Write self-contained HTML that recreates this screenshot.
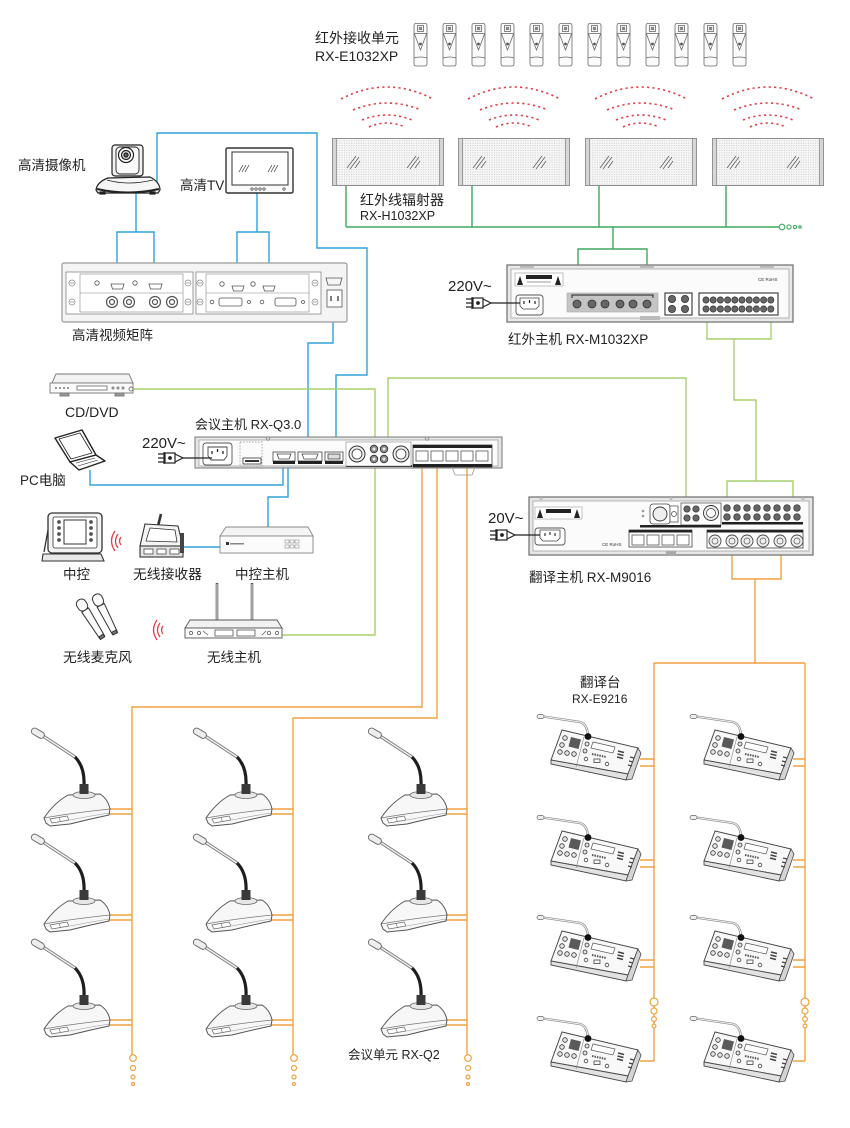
<!DOCTYPE html>
<html><head><meta charset="utf-8">
<style>html,body{margin:0;padding:0;background:#fff;}svg{display:block;}</style>
</head><body>
<svg width="850" height="1128" viewBox="0 0 850 1128" xmlns="http://www.w3.org/2000/svg" font-family="'Liberation Sans','Noto Sans CJK SC',sans-serif">
<defs>
<pattern id="dots" width="2.4" height="2.4" patternUnits="userSpaceOnUse"><rect width="2.4" height="2.4" fill="#f6f6f6"/><rect width="0.9" height="0.9" fill="#c6c6c6"/></pattern>

<g id="rcv" fill="none" stroke="#6a6a6a" stroke-width="0.8">
 <path d="M1,2.5 Q1,0.5 3,0.5 L12,0.5 Q14,0.5 14,2.5 L14,41 Q14,43 12,43 L3,43 Q1,43 1,41 Z" fill="#fbfbfb"/>
 <rect x="4.5" y="2.5" width="6" height="6" fill="#fff"/>
 <rect x="5.8" y="3.8" width="3.4" height="3.4" fill="#888" stroke="none"/>
 <path d="M1,10.5 L14,10.5"/>
 <path d="M1.5,11 L7.5,27 L13.5,11"/>
 <circle cx="7.5" cy="21" r="1.4" fill="#555" stroke="none"/>
 <path d="M1,35 Q7.5,33 14,35"/>
</g>

<g id="rad">
 <rect x="0.5" y="0.5" width="111" height="47" fill="url(#dots)" stroke="#8c8c8c"/>
 <rect x="0.5" y="0.5" width="4" height="47" fill="#d6d6d6" stroke="#8c8c8c" stroke-width="0.8"/>
 <rect x="107.5" y="0.5" width="4" height="47" fill="#d6d6d6" stroke="#8c8c8c" stroke-width="0.8"/>
 <path d="M15,30 l9,-12 M18,31 l9,-12 M23,30 l5,-7 M75,30 l9,-12 M78,31 l9,-12 M83,30 l5,-7" stroke="#555" stroke-width="0.7"/>
</g>

<g id="wave" fill="none" stroke="#e0404a" stroke-width="1.6" stroke-dasharray="2.2 3.2">
 <path d="M-46,99 Q0,75 46,99"/>
 <path d="M-34,110 Q0,96 34,110"/>
 <path d="M-25,120 Q0,110 25,120"/>
 <path d="M-18,127 Q0,119 18,127"/>
</g>

<g id="mic">
 <path d="M13,9 L45,30" stroke="#7a7a7a" stroke-width="3.2" stroke-linecap="round"/>
 <path d="M13,9 L45,30" stroke="#f2f2f2" stroke-width="1.4"/>
 <path d="M45,30 Q55,40 54,59" stroke="#1e1e1e" stroke-width="3.2" fill="none"/>
 <rect x="1" y="3" width="14" height="6.5" rx="3.2" transform="rotate(30 8 6)" fill="#eee" stroke="#666" stroke-width="0.9"/>
 <path d="M16,96 L14,91 Q24,76 38,68 L70,67 Q78,72 80,82 L79,88 Q60,92 40,97 L20,99 Z" fill="#f7f7f7" stroke="#555" stroke-width="1"/>
 <path d="M14,91 Q42,86 80,82" fill="none" stroke="#777" stroke-width="0.7"/>
 <path d="M40,93 Q60,89 79,86" fill="none" stroke="#999" stroke-width="0.6"/>
 <ellipse cx="54" cy="68" rx="11" ry="3.5" fill="#e6e6e6" stroke="#666" stroke-width="0.8"/>
 <rect x="49.5" y="57" width="9" height="10" fill="#3a3a3a"/>
 <path d="M20,92 L37,89 L39,93 L22,96 Z" fill="#fff" stroke="#666" stroke-width="0.7"/>
 <path d="M29,90.5 L30.5,94.5" stroke="#666" stroke-width="0.6"/>
</g>

<g id="desk">
 <path d="M6,2.5 L43,8 Q50,10 51,21" fill="none" stroke="#888" stroke-width="2.4"/>
 <path d="M6,2.5 L43,8 Q50,10 51,21" fill="none" stroke="#f4f4f4" stroke-width="1"/>
 <rect x="0" y="0.5" width="7" height="4" rx="2" fill="#eee" stroke="#666" stroke-width="0.7"/>
 <path d="M14,46 L25,16 L101,34 L91,60 Z" fill="#f8f8f8" stroke="#4a4a4a" stroke-width="1"/>
 <path d="M14,46 L14,50 L89,66 L91,60 Z" fill="#e2e2e2" stroke="#4a4a4a" stroke-width="0.9"/>
 <path d="M91,60 L101,34 L104,39 L95,65 L89,66 Z" fill="#d4d4d4" stroke="#4a4a4a" stroke-width="0.8"/>
 <path d="M47,23 L39,53" stroke="#888" stroke-width="0.6"/>
 <polygon points="34,23 44,25.5 41.5,35 31.5,32.5" fill="#5a5a5a"/>
 <g fill="#e4e4e4" stroke="#333" stroke-width="0.8">
  <circle cx="28" cy="24" r="2.3"/><circle cx="25" cy="31" r="2.3"/><circle cx="23" cy="38" r="2.3"/>
  <circle cx="30" cy="39" r="2.3"/><circle cx="37" cy="40" r="2.3"/>
  <circle cx="50" cy="30" r="2"/><circle cx="48" cy="37" r="2"/>
 </g>
 <circle cx="51" cy="22.5" r="3.4" fill="#111"/>
 <polygon points="56,28 78,33 76,39 54,34" fill="#fff" stroke="#555" stroke-width="0.7"/>
 <path d="M55,40 L69,43" stroke="#555" stroke-width="2" stroke-dasharray="1.5 1"/>
 <g fill="none" stroke="#444" stroke-width="0.8"><circle cx="49" cy="45" r="1.8"/><rect x="57" y="45" width="6" height="3.5"/><circle cx="70" cy="50" r="1.8"/></g>
 <path d="M81,37 L87,38.5 M80.5,40 L86.5,41.5 M80,43 L86,44.5" stroke="#444" stroke-width="1.6"/>
 <path d="M93,43 L97,44 M92,47 L96,48 M91,51 L95,52" stroke="#444" stroke-width="1.4"/>
</g>

<g id="plug" stroke="#222" fill="none" stroke-width="1.2">
 <path d="M0,-4 H6 M0,0 H6 M0,4 H6"/>
 <path d="M6,-6 V6"/>
 <rect x="7" y="-5" width="10" height="10" fill="#fff"/>
 <circle cx="12" cy="0" r="1.3" fill="#222"/>
 <path d="M17,-4 L25,0 L17,4"/>
</g>
</defs>

<rect width="850" height="1128" fill="#fff"/>

<!-- ================= WIRES ================= -->
<g fill="none" stroke-width="1.4">
 <!-- blue -->
 <g stroke="#2fa3d9">
  <path d="M136,192 V232 M117,288 V232 H154 V288"/>
  <path d="M257,193 V232 M237,288 V232 H269 V288"/>
  <path d="M157,183 V133 H317 V248 H367 V375 H336 V458"/>
  <path d="M333,287 V343 H308 V455"/>
  <path d="M90,470 V485 H283 V466"/>
  <path d="M288,466 V497 H268 V527"/>
  <path d="M182,547 H220"/>
 </g>
 <!-- dark green -->
 <g stroke="#3fa85e">
  <path d="M346,185 V227 M472,185 V227 M599,185 V227 M726,185 V227 M346,227 H779"/>
  <path d="M613,227 V249 M578,304 V249 H647 V304"/>
 </g>
 <!-- light green -->
 <g stroke="#a9d06b">
  <path d="M707,322 V339 H771 V322 M734,339 V400 H756 V481 M727,507 V481 H793 V507"/>
  <path d="M133,389 H375 V635 H282"/>
  <path d="M388,445 V378 H686 V506"/>
 </g>
 <!-- orange -->
 <g stroke="#f0a23f">
  <path d="M732,540 V579 H781 V540 M755,579 V663 M654,663 H805"/>
  <path d="M654,663 V1061 M805,663 V1061"/>
  <path d="M640,759 H654 M640,766 H654 M640,860 H654 M640,867 H654 M640,960 H654 M640,967 H654 M640,1061 H654"/>
  <path d="M793,759 H805 M793,766 H805 M793,860 H805 M793,867 H805 M793,960 H805 M793,967 H805 M793,1061 H805"/>
  <path d="M422,466 V707 H132 V1055 M437,466 V718 H293 V1055 M467,466 V1055"/>
  <path d="M108,809 H132 M108,814 H132 M108,915 H132 M108,920 H132 M108,1020 H132 M108,1025 H132"/>
  <path d="M270,809 H293 M270,814 H293 M270,915 H293 M270,920 H293 M270,1020 H293 M270,1025 H293"/>
  <path d="M445,809 H467 M445,814 H467 M445,915 H467 M445,920 H467 M445,1020 H467 M445,1025 H467"/>
 </g>
</g>
<!-- chain circles -->
<g fill="#fff" stroke="#3fa85e" stroke-width="1.1">
 <circle cx="782" cy="227" r="2.8"/><circle cx="789" cy="227" r="2.1"/><circle cx="795" cy="227" r="1.6"/><circle cx="800" cy="227" r="1.2"/>
</g>
<g fill="#fff" stroke="#f0a23f" stroke-width="1.2">
 <circle cx="654" cy="1002" r="4"/><circle cx="654" cy="1011" r="3"/><circle cx="654" cy="1019" r="2.4"/><circle cx="654" cy="1026" r="1.9"/>
 <circle cx="805" cy="1002" r="4"/><circle cx="805" cy="1011" r="3"/><circle cx="805" cy="1019" r="2.4"/><circle cx="805" cy="1026" r="1.9"/>
 <circle cx="133" cy="1058" r="3.3"/><circle cx="133" cy="1068" r="2.5"/><circle cx="133" cy="1077" r="2"/><circle cx="133" cy="1084" r="1.5"/>
 <circle cx="294" cy="1058" r="3.3"/><circle cx="294" cy="1068" r="2.5"/><circle cx="294" cy="1077" r="2"/><circle cx="294" cy="1084" r="1.5"/>
 <circle cx="468" cy="1058" r="3.3"/><circle cx="468" cy="1068" r="2.5"/><circle cx="468" cy="1077" r="2"/><circle cx="468" cy="1084" r="1.5"/>
</g>

<!-- ================= TOP: receivers, waves, radiators ================= -->
<g>
 <use href="#rcv" x="413" y="23"/><use href="#rcv" x="442" y="23"/><use href="#rcv" x="471" y="23"/><use href="#rcv" x="500" y="23"/>
 <use href="#rcv" x="529" y="23"/><use href="#rcv" x="558" y="23"/><use href="#rcv" x="587" y="23"/><use href="#rcv" x="616" y="23"/>
 <use href="#rcv" x="645" y="23"/><use href="#rcv" x="674" y="23"/><use href="#rcv" x="703" y="23"/><use href="#rcv" x="732" y="23"/>
</g>
<use href="#wave" transform="translate(387,0)"/>
<use href="#wave" transform="translate(514,0)"/>
<use href="#wave" transform="translate(641,0)"/>
<use href="#wave" transform="translate(768,0)"/>
<use href="#rad" x="332" y="138"/>
<use href="#rad" x="458" y="138"/>
<use href="#rad" x="585" y="138"/>
<use href="#rad" x="712" y="138"/>

<!-- ================= Camera ================= -->
<g stroke="#222" stroke-width="1.2">
 <rect x="112" y="145" width="31" height="31" rx="3" fill="#f2f2f2"/>
 <rect x="116" y="147" width="23" height="27" rx="4" fill="#fafafa" stroke-width="0.9"/>
 <circle cx="126" cy="155" r="7.5" fill="#fff"/>
 <circle cx="126" cy="155" r="4.5" fill="#ddd"/>
 <circle cx="126" cy="155" r="2" fill="#666"/>
 <path d="M96,190 Q97,182 108,178 L150,177 Q160,182 160,190 L158,193 L98,193 Z" fill="#f6f6f6"/>
 <path d="M107,180 Q128,186 153,180" fill="none" stroke-width="0.8"/>
 <path d="M97,189 Q128,196 159,189" fill="none" stroke-width="2"/>
 <rect x="100" y="192" width="5" height="2" fill="#222"/><rect x="150" y="192" width="5" height="2" fill="#222"/>
</g>
<!-- TV -->
<g stroke="#333">
 <rect x="226" y="148" width="67" height="45" rx="1.5" fill="#fafafa" stroke-width="1.4"/>
 <rect x="232" y="152" width="56" height="33" fill="#fff" stroke-width="1"/>
 <path d="M239,172 l4,-7 M242,172 l4,-7 M245,172 l4,-7 M268,172 l4,-7 M271,172 l4,-7 M274,172 l4,-7" stroke-width="0.7"/>
 <g fill="none" stroke-width="0.7"><circle cx="252" cy="189" r="1.2"/><circle cx="256" cy="189" r="1.2"/><circle cx="260" cy="189" r="1.2"/><circle cx="264" cy="189" r="1.2"/><circle cx="284" cy="189" r="1.2"/></g>
</g>

<!-- ================= Matrix ================= -->
<g stroke="#888" fill="none">
 <rect x="62" y="263" width="285" height="59" rx="2" fill="#f4f4f4" stroke="#9a9a9a" stroke-width="1.2"/>
 <rect x="66" y="272" width="127" height="42" fill="#fff" stroke-width="0.8"/>
 <rect x="196" y="272" width="125" height="42" fill="#fff" stroke-width="0.8"/>
 <rect x="80" y="274" width="103" height="38" stroke-width="0.6"/>
 <rect x="206" y="274" width="103" height="38" stroke-width="0.6"/>
 <path d="M80,293 H183 M206,293 H309" stroke-width="0.6"/>
 <g stroke-width="0.7">
  <circle cx="72" cy="283" r="3"/><circle cx="72" cy="302" r="3"/><circle cx="188" cy="283" r="3"/><circle cx="188" cy="302" r="3"/>
  <circle cx="200" cy="283" r="3"/><circle cx="200" cy="302" r="3"/><circle cx="315" cy="283" r="3"/><circle cx="315" cy="302" r="3"/>
  <path d="M70,283 h4 M70,302 h4 M186,283 h4 M186,302 h4 M198,283 h4 M198,302 h4 M313,283 h4 M313,302 h4"/>
 </g>
 <g stroke="#555" stroke-width="0.8">
  <circle cx="97" cy="283" r="2.2"/><circle cx="135" cy="283" r="2.2"/>
  <path d="M111,284 h13 l-1.5,5 h-10 z"/><path d="M149,284 h13 l-1.5,5 h-10 z"/>
  <circle cx="112" cy="302" r="5.5" stroke-width="1.2"/><circle cx="112" cy="302" r="2.5" stroke-width="1.2"/>
  <circle cx="129" cy="302" r="5.5" stroke-width="1.2"/><circle cx="129" cy="302" r="2.5" stroke-width="1.2"/>
  <circle cx="155" cy="302" r="5.5" stroke-width="1.2"/><circle cx="155" cy="302" r="2.5" stroke-width="1.2"/>
  <circle cx="172" cy="302" r="5.5" stroke-width="1.2"/><circle cx="172" cy="302" r="2.5" stroke-width="1.2"/>
  <circle cx="222" cy="284" r="2.2"/><circle cx="253" cy="284" r="2.2"/>
  <path d="M232,286 h12 l-1.5,5 h-9 z"/><path d="M263,286 h12 l-1.5,5 h-9 z"/>
  <rect x="219" y="298" width="23" height="8" rx="2"/><rect x="275" y="298" width="21" height="8" rx="2"/>
  <circle cx="212" cy="302" r="1.8"/><circle cx="249" cy="302" r="1.5"/><circle cx="262" cy="302" r="1.8"/><circle cx="303" cy="302" r="1.5"/>
  <path d="M326,278 h16 l-2,7 h-12 z"/>
  <rect x="327" y="290" width="15" height="17" fill="#fff"/>
  <path d="M331,296 v5 M338,296 v5" stroke-width="1.5"/>
 </g>
</g>

<!-- ================= CD/DVD ================= -->
<g stroke="#777" stroke-width="0.9">
 <path d="M52,383 L56,374 L129,374 L133,383 Z" fill="#f2f2f2"/>
 <rect x="50" y="383" width="83" height="10" fill="#fafafa"/>
 <rect x="60" y="393" width="9" height="3" fill="#999"/><rect x="115" y="393" width="9" height="3" fill="#999"/>
 <g fill="#777" stroke="none"><circle cx="56" cy="388" r="1"/><circle cx="60" cy="388" r="1"/><circle cx="64" cy="388" r="1"/><circle cx="68" cy="388" r="1"/></g>
 <rect x="77" y="386" width="30" height="4" fill="#fff"/>
 <g fill="none"><circle cx="113" cy="388" r="1"/><circle cx="118" cy="388" r="1"/><circle cx="123" cy="388" r="1"/><circle cx="131" cy="389" r="2"/></g>
</g>

<!-- ================= Laptop ================= -->
<g stroke="#222" stroke-width="1.4" fill="#fff" stroke-linejoin="round">
 <path d="M55,438 L82,430 L96,455 L70,462 Z"/>
 <path d="M59,439 L80,433 L92,453 L71,459 Z" stroke-width="0.8"/>
 <path d="M70,462 L96,455 L105,461 L79,470 Z"/>
 <path d="M76,463 L95,458 M78,466 L98,460" stroke-width="0.6"/>
</g>

<!-- ================= Conference host ================= -->
<g stroke="#777">
 <rect x="195" y="437" width="307" height="31" fill="#e6e6e6" stroke-width="1"/>
 <rect x="199" y="440" width="299" height="26" fill="#fbfbfb" stroke="#999" stroke-width="0.7"/>
 <circle cx="268" cy="438.5" r="1.8" fill="#ccc" stroke-width="0.6"/><circle cx="427" cy="438.5" r="1.8" fill="#ccc" stroke-width="0.6"/>
 <rect x="203" y="443" width="29" height="22" rx="3" fill="#fff" stroke="#555" stroke-width="0.9"/>
 <path d="M208,447 h19 v9 l-3,4 h-13 l-3,-4 z" fill="#fff" stroke="#444" stroke-width="0.9"/>
 <path d="M212,451 v3 M217.5,449 v3 M223,451 v3" stroke="#222" stroke-width="1.3"/>
 <rect x="240" y="442" width="22" height="24" fill="none" stroke="#888" stroke-width="0.7" stroke-dasharray="1.5 1.5"/>
 <rect x="243" y="458" width="18" height="6" fill="#fff" stroke="#333" stroke-width="0.8"/>
 <rect x="245" y="460" width="14" height="2" fill="#333" stroke="none"/>
 <g stroke="#444" stroke-width="0.8" fill="#fff">
  <rect x="273" y="452" width="22" height="9"/><path d="M277,454 h14 l-2,5 h-10 z"/>
  <rect x="298" y="452" width="24" height="9"/><path d="M302,454 h16 l-2,5 h-12 z"/>
  <rect x="325" y="452" width="18" height="9"/><rect x="328" y="454" width="12" height="5" fill="#ddd"/>
 </g>
 <g fill="#222" stroke="none"><rect x="273" y="461" width="22" height="3"/><rect x="298" y="461" width="24" height="3"/><rect x="325" y="461" width="18" height="3"/><rect x="346" y="465" width="66" height="2"/></g>
 <rect x="346" y="442" width="65" height="24" fill="#fff" stroke="#888" stroke-width="0.6"/>
 <circle cx="357" cy="454" r="8" fill="#eee" stroke="#333" stroke-width="1"/>
 <circle cx="357" cy="454" r="5" fill="#fff" stroke="#333" stroke-width="0.8"/>
 <g fill="#888" stroke="#333" stroke-width="0.8"><circle cx="374" cy="449" r="3.8"/><circle cx="384" cy="449" r="3.8"/><circle cx="374" cy="459" r="3.8"/><circle cx="384" cy="459" r="3.8"/></g>
 <g fill="#eee" stroke="none"><circle cx="374" cy="449" r="1.5"/><circle cx="384" cy="449" r="1.5"/><circle cx="374" cy="459" r="1.5"/><circle cx="384" cy="459" r="1.5"/></g>
 <circle cx="401" cy="454" r="8" fill="#eee" stroke="#333" stroke-width="1"/>
 <circle cx="401" cy="454" r="5" fill="#fff" stroke="#333" stroke-width="0.8"/>
 <rect x="413" y="445" width="79" height="22" fill="#fff" stroke="#444" stroke-width="0.8"/>
 <rect x="413" y="445" width="79" height="3" fill="#222" stroke="none"/>
 <rect x="413" y="464" width="79" height="3" fill="#222" stroke="none"/>
 <g fill="#fff" stroke="#555" stroke-width="0.8">
  <rect x="416" y="451" width="12" height="10"/><rect x="431" y="451" width="12" height="10"/><rect x="446" y="451" width="12" height="10"/><rect x="461" y="451" width="12" height="10"/><rect x="476" y="451" width="12" height="10"/>
 </g>
 <path d="M452,467 L455,475 L472,475 L475,467" fill="none" stroke="#999" stroke-width="0.8"/>
</g>
<use href="#plug" x="158" y="458"/>
<path d="M183,458 H212" stroke="#222" stroke-width="1.3"/>

<!-- ================= IR host ================= -->
<g stroke="#777">
 <rect x="507" y="265" width="286" height="57" fill="#e9e9e9" stroke-width="1.3"/>
 <rect x="511" y="269" width="278" height="49" fill="#fbfbfb" stroke="#999" stroke-width="0.7"/>
 <rect x="515" y="273" width="48" height="13" fill="#fff" stroke="#888" stroke-width="0.5"/>
 <path d="M517,285 l3,-9 l3,9 z M555,285 l3,-9 l3,9 z" fill="#222" stroke="none"/>
 <rect x="526" y="275" width="26" height="4" fill="#222" stroke="none"/>
 <path d="M527,282 h24" stroke="#999" stroke-width="1"/>
 <rect x="516" y="295" width="27" height="20" rx="3" fill="#fff" stroke="#555" stroke-width="0.9"/>
 <path d="M520,298 h19 v8 l-3,3 h-13 l-3,-3 z" fill="#fff" stroke="#444" stroke-width="0.8"/>
 <path d="M524,301 v3 M529.5,300 v3 M535,301 v3" stroke="#222" stroke-width="1.2"/>
 <rect x="567" y="293" width="91" height="19" fill="#c4c4c4" stroke="#aaa" stroke-width="0.6"/>
 <path d="M572,298 v-3 h81 v3" fill="none" stroke="#222" stroke-width="1"/>
 <g fill="#666" stroke="#333" stroke-width="0.8">
  <circle cx="577" cy="304" r="4"/><circle cx="592" cy="304" r="4"/><circle cx="605" cy="304" r="4"/><circle cx="620" cy="304" r="4"/><circle cx="633" cy="304" r="4"/><circle cx="647" cy="304" r="4"/>
 </g>
 <rect x="665" y="293" width="27" height="22" fill="#fff" stroke="#333" stroke-width="1.1"/>
 <g fill="#666" stroke="#333" stroke-width="0.8"><circle cx="672" cy="299" r="3.6"/><circle cx="685" cy="299" r="3.6"/><circle cx="672" cy="309" r="3.6"/><circle cx="685" cy="309" r="3.6"/></g>
 <rect x="699" y="293" width="79" height="22" fill="#fff" stroke="#333" stroke-width="1.1"/>
 <g fill="#666" stroke="#333" stroke-width="0.7">
  <circle cx="706" cy="300" r="3.1"/><circle cx="713.2" cy="300" r="3.1"/><circle cx="720.4" cy="300" r="3.1"/><circle cx="727.6" cy="300" r="3.1"/><circle cx="734.8" cy="300" r="3.1"/><circle cx="742" cy="300" r="3.1"/><circle cx="749.2" cy="300" r="3.1"/><circle cx="756.4" cy="300" r="3.1"/><circle cx="763.6" cy="300" r="3.1"/><circle cx="770.8" cy="300" r="3.1"/>
  <circle cx="706" cy="309" r="3.1"/><circle cx="713.2" cy="309" r="3.1"/><circle cx="720.4" cy="309" r="3.1"/><circle cx="727.6" cy="309" r="3.1"/><circle cx="734.8" cy="309" r="3.1"/><circle cx="742" cy="309" r="3.1"/><circle cx="749.2" cy="309" r="3.1"/><circle cx="756.4" cy="309" r="3.1"/><circle cx="763.6" cy="309" r="3.1"/><circle cx="770.8" cy="309" r="3.1"/>
 </g>
 <text x="758" y="281" font-size="4.5" fill="#333" stroke="none">CE RoHS</text>
 <rect x="640" y="316" width="20" height="4" fill="#bbb" stroke="none"/>
 <rect x="520" y="266" width="14" height="2" fill="#bbb" stroke="none"/><rect x="640" y="266" width="14" height="2" fill="#bbb" stroke="none"/><rect x="760" y="266" width="14" height="2" fill="#bbb" stroke="none"/>
</g>
<use href="#plug" x="466" y="303"/>
<path d="M491,303 H520" stroke="#222" stroke-width="1.3"/>

<!-- ================= Translation host ================= -->
<g stroke="#777">
 <rect x="529" y="497" width="284" height="58" fill="#e6e6e6" stroke-width="1.3"/>
 <rect x="533" y="501" width="276" height="50" fill="#fbfbfb" stroke="#999" stroke-width="0.7"/>
 <circle cx="541" cy="498.5" r="1.5" fill="#bbb" stroke="none"/><circle cx="671" cy="498.5" r="1.5" fill="#bbb" stroke="none"/><circle cx="803" cy="498.5" r="1.5" fill="#bbb" stroke="none"/>
 <rect x="535" y="507" width="47" height="12" fill="#fff" stroke="#888" stroke-width="0.5"/>
 <path d="M537,518 l3,-9 l3,9 z M574,518 l3,-9 l3,9 z" fill="#222" stroke="none"/>
 <rect x="546" y="509" width="25" height="4" fill="#222" stroke="none"/>
 <rect x="535" y="528" width="30" height="17" rx="3" fill="#fff" stroke="#555" stroke-width="0.9"/>
 <path d="M540,530 h20 v8 l-3,3 h-14 l-3,-3 z" fill="#fff" stroke="#444" stroke-width="0.8"/>
 <path d="M545,533 v3 M550,532 v3 M555,533 v3" stroke="#222" stroke-width="1.1"/>
 <text x="602" y="546" font-size="4.5" fill="#333" stroke="none">CE RoHS</text>
 <circle cx="643" cy="511" r="1.3" fill="#999" stroke="none"/><circle cx="643" cy="516" r="1.3" fill="#999" stroke="none"/>
 <rect x="650" y="504" width="20" height="20" rx="3" fill="#fff" stroke="#444" stroke-width="0.8"/>
 <circle cx="660" cy="514" r="7" fill="#eee" stroke="#333" stroke-width="0.9"/>
 <rect x="670" y="506" width="8" height="16" fill="#fff" stroke="#444" stroke-width="0.7"/>
 <circle cx="674" cy="514" r="2.5" fill="none" stroke="#444" stroke-width="0.7"/>
 <rect x="681" y="503" width="40" height="22" fill="#fff" stroke="#444" stroke-width="0.7"/>
 <g fill="#666" stroke="#333" stroke-width="0.7"><circle cx="687" cy="509" r="3.2"/><circle cx="696" cy="509" r="3.2"/><circle cx="687" cy="518" r="3.2"/><circle cx="696" cy="518" r="3.2"/></g>
 <circle cx="711" cy="513" r="7.5" fill="#eee" stroke="#333" stroke-width="0.9"/>
 <circle cx="711" cy="513" r="4.5" fill="#fff" stroke="#333" stroke-width="0.7"/>
 <rect x="640" y="525" width="81" height="2.5" fill="#222" stroke="none"/>
 <rect x="629" y="530" width="63" height="17" fill="#fff" stroke="#444" stroke-width="0.8"/>
 <rect x="629" y="530" width="63" height="2.5" fill="#222" stroke="none"/>
 <g fill="#fff" stroke="#555" stroke-width="0.8"><rect x="632" y="535" width="12" height="10"/><rect x="647" y="535" width="12" height="10"/><rect x="662" y="535" width="12" height="10"/><rect x="677" y="535" width="12" height="10"/></g>
 <g fill="#666" stroke="#333" stroke-width="0.7">
  <circle cx="727" cy="508" r="3.3"/><circle cx="737" cy="508" r="3.3"/><circle cx="747" cy="508" r="3.3"/><circle cx="757" cy="508" r="3.3"/><circle cx="767" cy="508" r="3.3"/><circle cx="777" cy="508" r="3.3"/><circle cx="787" cy="508" r="3.3"/><circle cx="797" cy="508" r="3.3"/>
  <circle cx="727" cy="517" r="3.3"/><circle cx="737" cy="517" r="3.3"/><circle cx="747" cy="517" r="3.3"/><circle cx="757" cy="517" r="3.3"/><circle cx="767" cy="517" r="3.3"/><circle cx="777" cy="517" r="3.3"/><circle cx="787" cy="517" r="3.3"/><circle cx="797" cy="517" r="3.3"/>
 </g>
 <rect x="722" y="522" width="81" height="2.5" fill="#222" stroke="none"/>
 <rect x="707" y="530" width="96" height="18" fill="#fff" stroke="#444" stroke-width="0.8"/>
 <rect x="707" y="530" width="96" height="2.5" fill="#222" stroke="none"/>
 <g fill="#eee" stroke="#444" stroke-width="0.9">
  <circle cx="715" cy="541" r="6"/><circle cx="732" cy="541" r="6"/><circle cx="747" cy="541" r="6"/><circle cx="763" cy="541" r="6"/><circle cx="780" cy="541" r="6"/><circle cx="797" cy="541" r="6"/>
 </g>
 <g fill="none" stroke="#555" stroke-width="0.7">
  <circle cx="715" cy="541" r="3"/><circle cx="732" cy="541" r="3"/><circle cx="747" cy="541" r="3"/><circle cx="763" cy="541" r="3"/><circle cx="780" cy="541" r="3"/><circle cx="797" cy="541" r="3"/>
 </g>
 <rect x="666" y="551" width="10" height="4" fill="#aaa" stroke="none"/>
</g>
<use href="#plug" x="490" y="535"/>
<path d="M515,535 H540" stroke="#222" stroke-width="1.3"/>

<!-- ================= Control devices ================= -->
<!-- tablet -->
<g stroke="#333">
 <path d="M44,552 L48,530" stroke-width="1.3" fill="none"/>
 <path d="M43,554 L101,554 L104,561 L42,561 Z" fill="#e8e8e8" stroke-width="1.1"/>
 <rect x="48" y="513" width="54" height="40" rx="4" fill="#f4f4f4" stroke-width="1.3"/>
 <rect x="53" y="517" width="44" height="31" rx="2" fill="#fff" stroke-width="0.8"/>
 <rect x="64" y="520" width="22" height="24" fill="#fff" stroke-width="1"/>
 <g fill="#555" stroke="none"><circle cx="59" cy="522" r="1.9"/><circle cx="59" cy="528" r="1.9"/><circle cx="59" cy="534" r="1.9"/><circle cx="59" cy="540" r="1.9"/><circle cx="91" cy="522" r="1.9"/><circle cx="91" cy="528" r="1.9"/><circle cx="91" cy="534" r="1.9"/><circle cx="91" cy="540" r="1.9"/></g>
</g>
<g fill="none" stroke="#e0404a" stroke-width="1.3">
 <path d="M121,537 Q118,541 121,545"/><path d="M118,534 Q113,541 118,548"/><path d="M115,531 Q108,541 115,551"/>
 <path d="M163,626 Q160,630 163,634"/><path d="M160,623 Q155,630 160,637"/><path d="M157,620 Q150,630 157,640"/>
</g>
<!-- wireless receiver -->
<g stroke="#333">
 <path d="M158,526 L161,514" stroke-width="2.6"/>
 <path d="M145,524 L178,526 L183,547 L140,546 Z" fill="#f4f4f4" stroke-width="1.1"/>
 <path d="M150,528 L175,530 L177,542 L146,541 Z" fill="#fff" stroke-width="0.8"/>
 <rect x="140" y="546" width="43" height="11" fill="#e4e4e4" stroke-width="1.1"/>
 <rect x="144" y="549" width="9" height="5" fill="#fff" stroke-width="0.7"/><rect x="157" y="549" width="9" height="5" fill="#fff" stroke-width="0.7"/><rect x="170" y="549" width="9" height="5" fill="#fff" stroke-width="0.7"/>
 <rect x="180" y="533" width="4" height="20" fill="#444" stroke="none"/>
</g>
<!-- central control host -->
<g stroke="#888">
 <path d="M226,527 L308,527 L313,536 L220,536 Z" fill="#f4f4f4" stroke-width="0.9"/>
 <rect x="220" y="536" width="93" height="17" fill="#fbfbfb" stroke-width="0.9"/>
 <rect x="226" y="542" width="3" height="3" fill="#333" stroke="none"/>
 <rect x="230" y="543" width="14" height="1.5" fill="#888" stroke="none"/>
 <g fill="#fff" stroke="#777" stroke-width="0.5"><rect x="285" y="540" width="4" height="3"/><rect x="290" y="540" width="4" height="3"/><rect x="295" y="540" width="4" height="3"/><rect x="285" y="545" width="4" height="3"/><rect x="290" y="545" width="4" height="3"/><rect x="295" y="545" width="4" height="3"/></g>
</g>
<!-- wireless mics -->
<g stroke="#333" fill="#fafafa" stroke-width="1">
 <g transform="translate(82,605) rotate(-32)">
  <rect x="-5" y="-6" width="10" height="12" rx="4.5"/>
  <path d="M-4,6 L-2.8,38 L2.8,38 L4,6 Z"/>
  <rect x="-2.5" y="36" width="5" height="3" fill="#777"/>
 </g>
 <g transform="translate(98,600) rotate(-27)">
  <rect x="-5" y="-6" width="10" height="12" rx="4.5"/>
  <path d="M-4,6 L-2.8,37 L2.8,37 L4,6 Z"/>
  <rect x="-2.5" y="35" width="5" height="3" fill="#777"/>
 </g>
</g>
<!-- wireless host -->
<g stroke="#555">
 <path d="M217,583 V622 M252,583 V622" stroke-width="2.6"/>
 <path d="M217,584 V621 M252,584 V621" stroke="#eee" stroke-width="1"/>
 <path d="M190,620 L277,620 L282,628 L185,628 Z" fill="#f2f2f2" stroke-width="0.9"/>
 <rect x="185" y="628" width="97" height="10" fill="#fafafa" stroke-width="0.9"/>
 <rect x="215" y="630" width="18" height="6" fill="#fff" stroke-width="0.8"/><rect x="237" y="630" width="18" height="6" fill="#fff" stroke-width="0.8"/>
 <g fill="none" stroke-width="0.7"><circle cx="191" cy="633" r="1.6"/><circle cx="199" cy="633" r="1.6"/><circle cx="269" cy="633" r="1.6"/><circle cx="277" cy="633" r="1.6"/></g>
 <path d="M203,631 l5,4 M262,635 l4,-4" stroke-width="0.7"/>
</g>

<!-- ================= Conference units ================= -->
<use href="#mic" x="30" y="727"/><use href="#mic" x="30" y="833"/><use href="#mic" x="30" y="938"/>
<use href="#mic" x="192" y="727"/><use href="#mic" x="192" y="833"/><use href="#mic" x="192" y="938"/>
<use href="#mic" x="367" y="727"/><use href="#mic" x="367" y="833"/><use href="#mic" x="367" y="938"/>

<!-- ================= Interpreter desks ================= -->
<use href="#desk" x="537" y="714"/><use href="#desk" x="537" y="815"/><use href="#desk" x="537" y="915"/><use href="#desk" x="537" y="1016"/>
<use href="#desk" x="690" y="714"/><use href="#desk" x="690" y="815"/><use href="#desk" x="690" y="915"/><use href="#desk" x="690" y="1016"/>

<!-- ================= Labels ================= -->
<g fill="#222">
 <text x="315" y="43" font-size="14">红外接收单元</text>
 <text x="315" y="61" font-size="14">RX-E1032XP</text>
 <text x="360" y="205" font-size="14">红外线辐射器</text>
 <text x="360" y="220" font-size="12.5">RX-H1032XP</text>
 <text x="18" y="170" font-size="13.5">高清摄像机</text>
 <text x="180" y="190" font-size="13.5">高清TV</text>
 <text x="72" y="340" font-size="13.5">高清视频矩阵</text>
 <text x="448" y="291" font-size="15">220V~</text>
 <text x="508" y="344" font-size="13.5">红外主机 RX-M1032XP</text>
 <text x="65" y="417" font-size="14">CD/DVD</text>
 <text x="195" y="429" font-size="13">会议主机 RX-Q3.0</text>
 <text x="142" y="448" font-size="15">220V~</text>
 <text x="20" y="485" font-size="13.5">PC电脑</text>
 <text x="488" y="523" font-size="15">20V~</text>
 <text x="529" y="582" font-size="13.5">翻译主机 RX-M9016</text>
 <text x="63" y="579" font-size="13.5">中控</text>
 <text x="133" y="579" font-size="13.8">无线接收器</text>
 <text x="235" y="579" font-size="13.5">中控主机</text>
 <text x="63" y="662" font-size="13.8">无线麦克风</text>
 <text x="207" y="662" font-size="13.5">无线主机</text>
 <text x="580" y="687" font-size="13.5">翻译台</text>
 <text x="572" y="703" font-size="12">RX-E9216</text>
 <text x="348" y="1059" font-size="12.5">会议单元 RX-Q2</text>
</g>
</svg>
</body></html>
